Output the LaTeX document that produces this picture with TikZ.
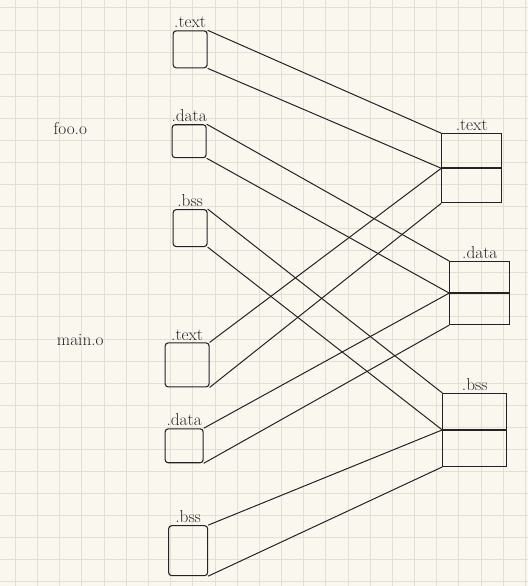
\documentclass[tikz,border=0pt]{standalone}
\usetikzlibrary{positioning}
\definecolor{paper}{RGB}{250,248,238}
\definecolor{gridc}{RGB}{226,224,212}
\definecolor{ink}{RGB}{35,35,35}
\tikzset{
  sec/.style={draw=ink, line width=1.1pt, rounded corners=3pt, minimum width=34pt, minimum height=37pt, inner sep=0pt},
  half/.style={draw=ink, line width=1.1pt, minimum width=60pt, minimum height=34pt, inner sep=0pt},
  lbl/.style={text=ink, font=\LARGE, inner sep=1pt},
  wire/.style={draw=ink, line width=1pt},
}
\begin{document}
\begin{tikzpicture}[x=1pt,y=-1pt]
% grid paper
\fill[paper] (0,0) rectangle (528,586);
\foreach \i in {0,...,23}
  \draw[gridc, line width=0.8pt] (15+22.2*\i,0) -- (15+22.2*\i,586);
\foreach \j in {0,...,26}
  \draw[gridc, line width=0.8pt] (0,7.5+22.1*\j) -- (528,7.5+22.1*\j);
\useasboundingbox (0,0) rectangle (528,586);

% object files
\node[lbl] (fooobj) at (70,128) {foo.o};
\node[lbl] (mainobj) at (80,340) {main.o};

% input sections
\node[sec] (footext) at (190,49) {};
\node[sec, minimum height=33pt] (foodata) at (189,141) {};
\node[sec] (foobss) at (190,228) {};
\node[sec, minimum width=44pt, minimum height=44pt] (maintext) at (187,365) {};
\node[sec, minimum width=38pt, minimum height=34pt] (maindata) at (184,446) {};
\node[sec, minimum width=39pt, minimum height=50pt] (mainbss) at (188,551) {};

\node[lbl, above=1pt of footext] (footextlbl) {.text};
\node[lbl, above=1pt of foodata] (foodatalbl) {.data};
\node[lbl, above=1pt of foobss] (foobsslbl) {.bss};
\node[lbl, above=1pt of maintext] (maintextlbl) {.text};
\node[lbl, above=1pt of maindata] (maindatalbl) {.data};
\node[lbl, above=1pt of mainbss] (mainbsslbl) {.bss};

% output sections
\node[half, anchor=north] (outtexta) at (472,133) {};
\node[half, below=0pt of outtexta] (outtextb) {};
\node[half, minimum height=31pt, anchor=north] (outdataa) at (480,261) {};
\node[half, minimum height=31pt, below=0pt of outdataa] (outdatab) {};
\node[half, minimum width=64pt, minimum height=36pt, anchor=north] (outbssa) at (475,393) {};
\node[half, minimum width=64pt, minimum height=36pt, below=0pt of outbssa] (outbssb) {};

\node[lbl, above=1pt of outtexta] (outtextlbl) {.text};
\node[lbl, above=1pt of outdataa] (outdatalbl) {.data};
\node[lbl, above=1pt of outbssa] (outbsslbl) {.bss};

% where each piece goes
\draw[wire] (footext.north east) -- (outtexta.north west);
\draw[wire] (footext.south east) -- (outtexta.south west);
\draw[wire] (maintext.north east) -- (outtextb.north west);
\draw[wire] (maintext.south east) -- (outtextb.south west);
\draw[wire] (foodata.north east) -- (outdataa.north west);
\draw[wire] (foodata.south east) -- (outdataa.south west);
\draw[wire] (maindata.north east) -- (outdatab.north west);
\draw[wire] (maindata.south east) -- (outdatab.south west);
\draw[wire] (foobss.north east) -- (outbssa.north west);
\draw[wire] (foobss.south east) -- (outbssa.south west);
\draw[wire] (mainbss.north east) -- (outbssb.north west);
\draw[wire] (mainbss.south east) -- (outbssb.south west);
\end{tikzpicture}
\end{document}
